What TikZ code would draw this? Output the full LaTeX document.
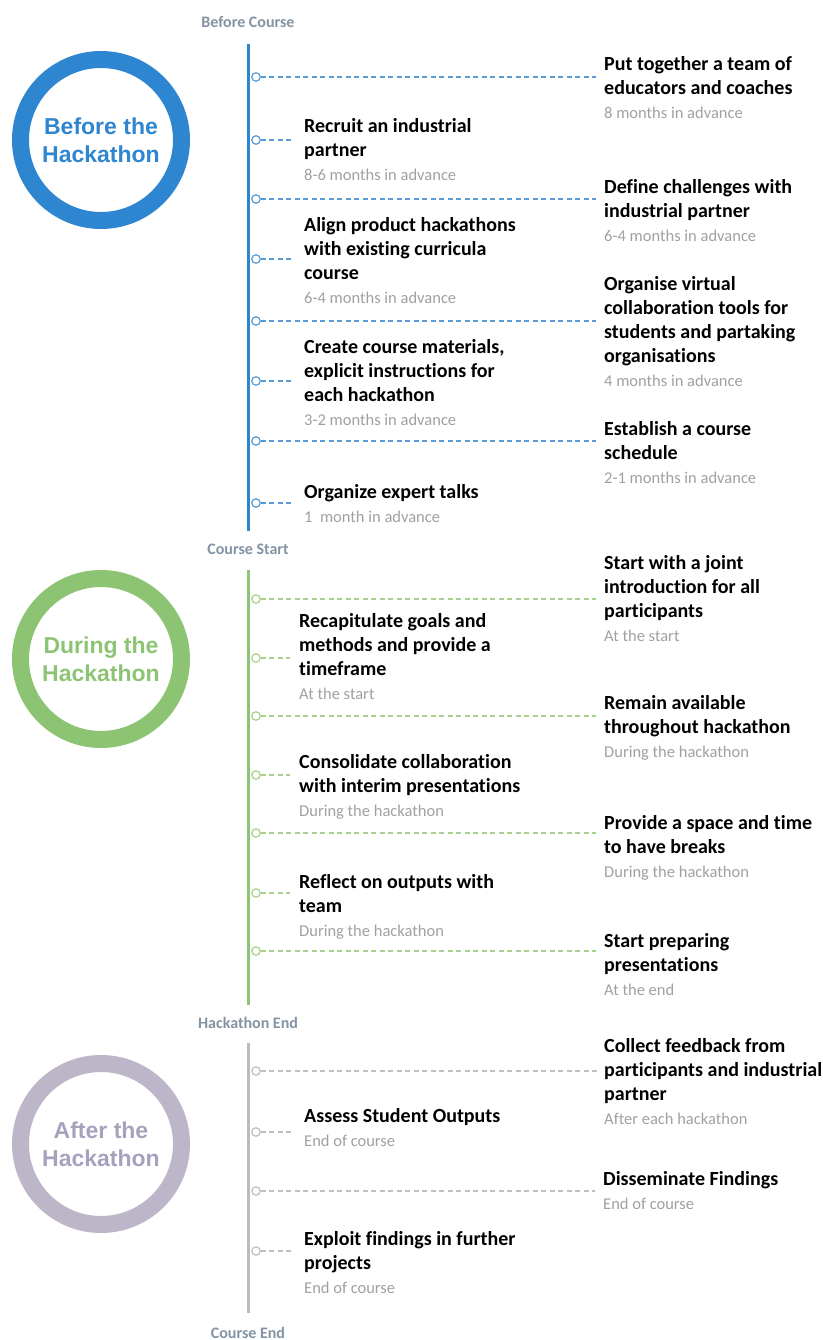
\documentclass[tikz,border=0pt]{standalone}
\usepackage{fontspec}
\setmainfont{Carlito}[Ligatures=NoCommon]
\newfontfamily\circfont{Liberation Sans}
\definecolor{pblue}{HTML}{2E86D1}
\definecolor{pgreen}{HTML}{8DC474}
\definecolor{ppurple}{HTML}{BDB6C9}
\definecolor{ppurpletext}{HTML}{A8A1BD}
\definecolor{dblue}{HTML}{5B9BD5}
\definecolor{dgreen}{HTML}{A9D18E}
\definecolor{dgrey}{HTML}{BFBFBF}
\definecolor{spinegrey}{HTML}{BDBAC4}
\definecolor{labelgrey}{HTML}{8493A3}
\definecolor{subgrey}{HTML}{A0A0A0}
\tikzset{
  ring/.style={circle, minimum size=161pt, inner sep=0pt, line width=17pt, align=center,
    font=\circfont\bfseries\fontsize{23}{28}\selectfont},
  dot/.style={circle, draw, fill=white, minimum size=8.5pt, inner sep=0pt, line width=1.2pt},
  task/.style={anchor=north west, inner sep=0pt, align=left, text=black,
    font=\fontsize{20}{24}\selectfont\bfseries},
  phase/.style={inner sep=0pt, font=\fontsize{16}{19}\selectfont\bfseries, text=labelgrey},
  dashr/.style={dash pattern=on 5pt off 3.5pt, line width=1.2pt, shorten >=8pt},
  dashl/.style={dash pattern=on 5pt off 3.5pt, line width=1.2pt, shorten >=12pt},
  spine/.style={line width=3pt},
}
\newcommand\when[1]{{\fontsize{16.5}{24}\selectfont\mdseries\color{subgrey}#1}}
\begin{document}
\begin{tikzpicture}[x=1pt,y=-1pt]
\useasboundingbox (0,0) rectangle (822,1340);

% ---------------- phase circles
\node[ring, draw=pblue, text=pblue] (c1) at (101,140) {Before the\\Hackathon};
\node[ring, draw=pgreen, text=pgreen] (c2) at (101,659) {During the\\Hackathon};
\node[ring, draw=ppurple, text=ppurpletext] (c3) at (101,1144) {After the\\Hackathon};

% ---------------- phase labels and spines
\node[phase] (l1) at (248,22) {Before Course};
\node[phase] (l2) at (248,549) {Course Start};
\node[phase] (l3) at (248,1023) {Hackathon End};
\node[phase] (l4) at (248,1333) {Course End};
\coordinate (s1t) at (248,44);  \coordinate (s1b) at (248,531);
\coordinate (s2t) at (248,570); \coordinate (s2b) at (248,1005);
\coordinate (s3t) at (248,1043);\coordinate (s3b) at (248,1313);
\draw[spine, pblue] (s1t) -- (s1b);
\draw[spine, pgreen] (s2t) -- (s2b);
\draw[spine, spinegrey] (s3t) -- (s3b);

% ---------------- Before
\node[dot, draw=dblue] (b1) at (256,77) {};
\node[dot, draw=dblue] (b2) at (256,140) {};
\node[dot, draw=dblue] (b3) at (256,199) {};
\node[dot, draw=dblue] (b4) at (256,259) {};
\node[dot, draw=dblue] (b5) at (256,321) {};
\node[dot, draw=dblue] (b6) at (256,381) {};
\node[dot, draw=dblue] (b7) at (256,441) {};
\node[dot, draw=dblue] (b8) at (256,503) {};
\node[task] (tb1) at (604,53.2) {\strut Put together a team of\\educators and coaches\\\when{8 months in advance}};
\node[task] (tb2) at (304,115.2) {\strut Recruit an industrial\\partner\\\when{8-6 months in advance}};
\node[task] (tb3) at (604,176.2) {\strut Define challenges with\\industrial partner\\\when{6-4 months in advance}};
\node[task] (tb4) at (304,214.2) {\strut Align product hackathons\\with existing curricula\\course\\\when{6-4 months in advance}};
\node[task] (tb5) at (604,273.2) {\strut Organise virtual\\collaboration tools for\\students and partaking\\organisations\\\when{4 months in advance}};
\node[task] (tb6) at (304,336.2) {\strut Create course materials,\\explicit instructions for\\each hackathon\\\when{3-2 months in advance}};
\node[task] (tb7) at (604,418.2) {\strut Establish a course\\schedule\\\when{2-1 months in advance}};
\node[task] (tb8) at (304,481.2) {\strut Organize expert talks\\\when{1\ \ month in advance}};
\draw[dashr, dblue] (b1) -- (b1 -| tb1.west);
\draw[dashl, dblue] (b2) -- (b2 -| tb2.west);
\draw[dashr, dblue] (b3) -- (b3 -| tb3.west);
\draw[dashl, dblue] (b4) -- (b4 -| tb4.west);
\draw[dashr, dblue] (b5) -- (b5 -| tb5.west);
\draw[dashl, dblue] (b6) -- (b6 -| tb6.west);
\draw[dashr, dblue] (b7) -- (b7 -| tb7.west);
\draw[dashl, dblue] (b8) -- (b8 -| tb8.west);

% ---------------- During
\node[dot, draw=dgreen] (g1) at (256,599) {};
\node[dot, draw=dgreen] (g2) at (256,658) {};
\node[dot, draw=dgreen] (g3) at (256,716) {};
\node[dot, draw=dgreen] (g4) at (256,775) {};
\node[dot, draw=dgreen] (g5) at (256,833) {};
\node[dot, draw=dgreen] (g6) at (256,893) {};
\node[dot, draw=dgreen] (g7) at (256,951) {};
\node[task] (tg1) at (604,552.2) {\strut Start with a joint\\introduction for all\\participants\\\when{At the start}};
\node[task] (tg2) at (299,610.2) {\strut Recapitulate goals and\\methods and provide a\\timeframe\\\when{At the start}};
\node[task] (tg3) at (604,692.2) {\strut Remain available\\throughout hackathon\\\when{During the hackathon}};
\node[task] (tg4) at (299,751.2) {\strut Consolidate collaboration\\with interim presentations\\\when{During the hackathon}};
\node[task] (tg5) at (604,812.2) {\strut Provide a space and time\\to have breaks\\\when{During the hackathon}};
\node[task] (tg6) at (299,871.2) {\strut Reflect on outputs with\\team\\\when{During the hackathon}};
\node[task] (tg7) at (604,930.2) {\strut Start preparing\\presentations\\\when{At the end}};
\draw[dashr, dgreen] (g1) -- (g1 -| tg1.west);
\draw[dashl, dgreen, shorten >=9pt] (g2) -- (g2 -| tg2.west);
\draw[dashr, dgreen] (g3) -- (g3 -| tg3.west);
\draw[dashl, dgreen, shorten >=9pt] (g4) -- (g4 -| tg4.west);
\draw[dashr, dgreen] (g5) -- (g5 -| tg5.west);
\draw[dashl, dgreen, shorten >=9pt] (g6) -- (g6 -| tg6.west);
\draw[dashr, dgreen] (g7) -- (g7 -| tg7.west);

% ---------------- After
\node[dot, draw=dgrey] (a1) at (256,1071) {};
\node[dot, draw=dgrey] (a2) at (256,1132) {};
\node[dot, draw=dgrey] (a3) at (256,1191) {};
\node[dot, draw=dgrey] (a4) at (256,1251) {};
\node[task] (ta1) at (604,1035.2) {\strut Collect feedback from\\participants and industrial\\partner\\\when{After each hackathon}};
\node[task] (ta2) at (304,1105.2) {\strut Assess Student Outputs\\\when{End of course}};
\node[task] (ta3) at (603,1168.2) {\strut Disseminate Findings\\\when{End of course}};
\node[task] (ta4) at (304,1228.2) {\strut Exploit findings in further\\projects\\\when{End of course}};
\draw[dashr, dgrey, shorten >=4pt] (a1) -- (a1 -| ta1.west);
\draw[dashl, dgrey] (a2) -- (a2 -| ta2.west);
\draw[dashr, dgrey] (a3) -- (a3 -| ta3.west);
\draw[dashl, dgrey] (a4) -- (a4 -| ta4.west);
\end{tikzpicture}
\end{document}
